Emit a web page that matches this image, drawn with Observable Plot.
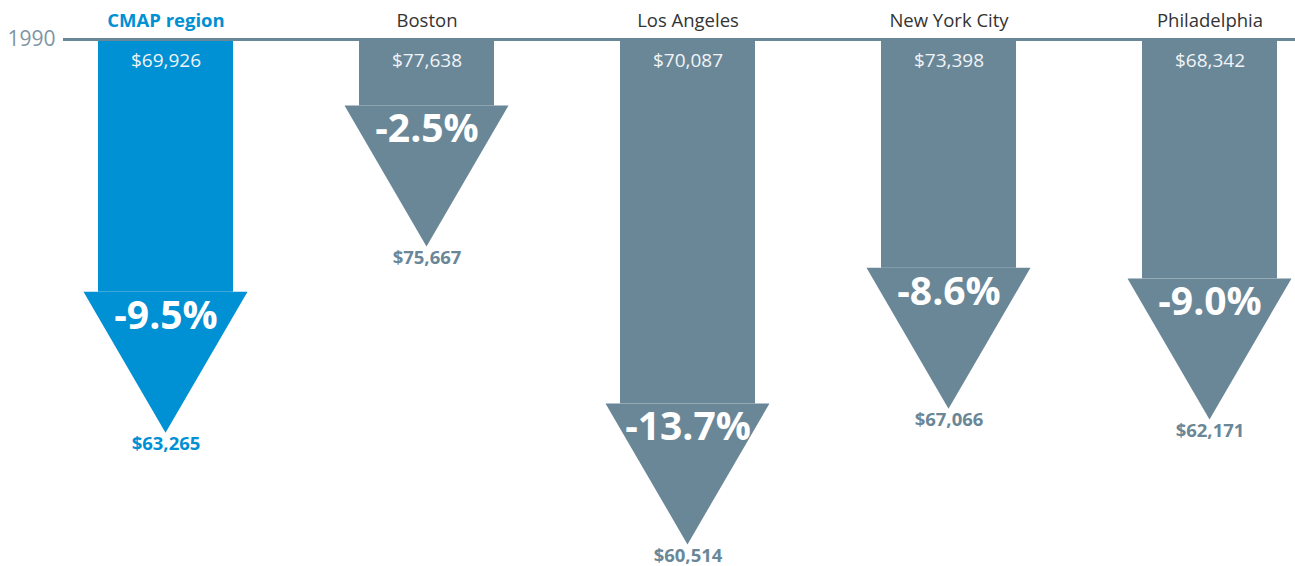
<!DOCTYPE html>
<html><head><meta charset="utf-8">
<script src="https://cdn.jsdelivr.net/npm/d3@7"></script>
<script src="https://cdn.jsdelivr.net/npm/@observablehq/plot@0.6"></script>
<style>
body{margin:0;background:#fff;font-family:"Open Sans",Lato,sans-serif}
#chart svg{display:block}
</style>
</head><body><div id="chart"></div>
<script>
const cities = ["CMAP region", "Boston", "Los Angeles", "New York City", "Philadelphia"];
const income1990 = [69926, 77638, 70087, 73398, 68342];
const incomeLater = [63265, 75667, 60514, 67066, 62171];
const pctChange = [-9.5, -2.5, -13.7, -8.6, -9.0];
const highlighted = ["CMAP region"];
const baselineLabel = "1990";

const BLUE = "#0090d4", GRAY = "#6a8798";
const HEAD_HALF = 82, HEAD_LEN = 141;

const data = cities.map((c, i) => ({
  city: c, start: income1990[i], end: incomeLater[i], pct: pctChange[i],
  drop: -pctChange[i], hi: highlighted.includes(c)
}));
const fmt = v => "$" + d3.format(",")(v);
const colorOf = d => d.hi ? BLUE : GRAY;

const chart = Plot.plot({
  width: 1295, height: 566,
  marginLeft: 63, marginRight: 0, marginTop: 0, marginBottom: 0,
  style: {fontFamily: "'Open Sans', Lato, sans-serif", background: "#fff"},
  x: {type: "band", domain: cities, range: [33.75, 1341.25], paddingInner: 0.4837, paddingOuter: 0.24185, axis: null},
  y: {domain: [0, 20], range: [39, 571], axis: null},
  color: {type: "identity"},
  marks: [
    Plot.barY(data, {x: "city", y1: 0, y2: "drop", fill: colorOf, inset: 0}),
    Plot.dot(data, {x: "city", y: "drop", render(index, scales, values) {
      const g = d3.create("svg:g");
      const half = scales.x && scales.x.bandwidth ? scales.x.bandwidth() / 2 : 0;
      for (const i of index) {
        const cx = values.x[i] + half, top = values.y[i];
        g.append("path")
          .attr("d", `M${cx - HEAD_HALF},${top}L${cx + HEAD_HALF},${top}L${cx},${top + HEAD_LEN}Z`)
          .attr("fill", colorOf(data[i]));
      }
      return g.node();
    }}),
    Plot.ruleY([0], {stroke: GRAY, strokeWidth: 3}),
    Plot.text([baselineLabel], {frameAnchor: "left", y: () => 0, dx: -8, textAnchor: "end", fontSize: 21, fill: "#7d95a4"}),
    Plot.text(data.filter(d => !d.hi), {x: "city", y: () => 0, dy: -18, text: "city", fontSize: 18.5, fill: "#333"}),
    Plot.text(data.filter(d => d.hi), {x: "city", y: () => 0, dy: -18, text: "city", fontSize: 18.5, fontWeight: "bold", fill: BLUE}),
    Plot.text(data, {x: "city", y: () => 0, dy: 21, text: d => fmt(d.start), fontSize: 19, fill: "#f0f4f7"}),
    Plot.text(data, {x: "city", y: "drop", dy: 24, text: d => d.pct.toFixed(1) + "%", fontSize: 39, fontWeight: "bold", fill: "#fff"}),
    Plot.text(data, {x: "city", y: "drop", dy: HEAD_LEN + 11, text: d => fmt(d.end), fontSize: 18.5, fontWeight: "bold", fill: colorOf})
  ]
});
document.getElementById("chart").append(chart);
</script>
</body></html>
